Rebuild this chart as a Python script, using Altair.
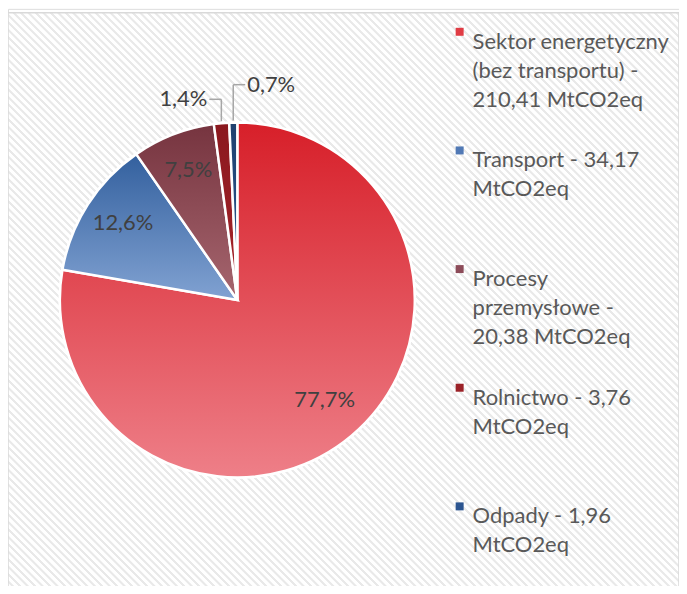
import math
import altair as alt
import pandas as pd

# ---------------- data ----------------
legend_labels = [
    "Sektor energetyczny|(bez transportu) -|210,41 MtCO2eq",
    "Transport - 34,17|MtCO2eq",
    "Procesy|przemysłowe -|20,38 MtCO2eq",
    "Rolnictwo - 3,76|MtCO2eq",
    "Odpady - 1,96|MtCO2eq",
]
values = [210.41, 34.17, 20.38, 3.76, 1.96]
pct_labels = ["77,7%", "12,6%", "7,5%", "1,4%", "0,7%"]

legend_colors = ["#e03c44", "#5179b5", "#8c4b59", "#9b2228", "#2c5590"]
grad_top = ["#d71f29", "#33609e", "#76343f", "#8a181e", "#1f416f"]
grad_bottom = ["#ee7f88", "#81a2d2", "#a6666f", "#a8252c", "#2f5a95"]

# ---------------- layout / style ----------------
W, H = 673, 578
CX, CY = 230, 292
R = 178
FONT = "Lato"
total = sum(values)

df = pd.DataFrame({
    "cat": legend_labels,
    "value": values,
    "pct": pct_labels,
    "order": list(range(len(values))),
})

theta_scale = alt.Scale(domain=[0, total], range=[0, 2 * math.pi])

base = (
    alt.Chart(df)
    .transform_window(cum="sum(value)", sort=[alt.SortField("order")], frame=[None, 0])
    .transform_calculate(start="datum.cum - datum.value", mid="datum.cum - datum.value / 2")
)

# background with fine diagonal stripes
N = 180
stops = []
for k in range(N):
    stops.append(alt.GradientStop(color="#ffffff", offset=k / N))
    stops.append(alt.GradientStop(color="#ffffff", offset=(k + 0.5) / N))
    stops.append(alt.GradientStop(color="#e9e9e9", offset=(k + 0.6) / N))
    stops.append(alt.GradientStop(color="#e9e9e9", offset=min((k + 0.9) / N, 1)))
stripes = alt.Gradient(gradient="linear", stops=stops, x1=0, y1=1, x2=1, y2=0)

background = alt.Chart(alt.Data(values=[{}])).mark_rect(
    fill=stripes, stroke="#d9d9d9", strokeWidth=1.5
).encode(
    x=alt.value(0), x2=alt.value(W), y=alt.value(4), y2=alt.value(4 + W)
)

# solid arcs (provide legend)
arcs = base.mark_arc(outerRadius=R, stroke="white", strokeWidth=2.5).encode(
    theta=alt.Theta("start:Q", scale=theta_scale),
    theta2=alt.Theta2("cum:Q"),
    x=alt.value(CX),
    y=alt.value(CY),
    color=alt.Color(
        "cat:N",
        scale=alt.Scale(domain=legend_labels, range=legend_colors),
        legend=alt.Legend(
            title=None,
            orient="none",
            legendX=442,
            legendY=12,
            padding=0,
            labelExpr="split(datum.label, '|')",
            labelFont=FONT,
            labelFontSize=22,
            labelColor="#595959",
            labelLimit=400,
            labelOffset=2,
            labelBaseline="top",
            symbolType="square",
            symbolSize=64,
            symbolStrokeWidth=0,
            rowPadding=29,
            gridAlign="all",
        ),
    ),
)

# gradient overlays per slice
grad_layers = []
for i in range(len(values)):
    g = alt.Gradient(
        gradient="linear",
        stops=[alt.GradientStop(color=grad_top[i], offset=0), alt.GradientStop(color=grad_bottom[i], offset=1)],
        x1=0, y1=0, x2=0, y2=1,
    )
    grad_layers.append(
        base.transform_filter(f"datum.order == {i}")
        .mark_arc(outerRadius=R, stroke="white", strokeWidth=2.5, fill=g)
        .encode(
            theta=alt.Theta("start:Q", scale=theta_scale),
            theta2=alt.Theta2("cum:Q"),
            x=alt.value(CX),
            y=alt.value(CY),
        )
    )

# inside labels
inside = base.transform_filter("datum.order < 3").mark_text(
    radius=136, font=FONT, fontSize=22, color="#404040", dy=-4
).encode(
    theta=alt.Theta("mid:Q", scale=theta_scale),
    x=alt.value(CX),
    y=alt.value(CY),
    text="pct:N",
)

# outside labels with leader lines
outside = base.transform_filter("datum.order >= 3").transform_calculate(
    ang=f"2 * PI * datum.mid / {total}",
    side="datum.order == 3 ? -1 : 1",
    lift="datum.order == 3 ? 22 : 36",
).transform_calculate(
    ex=f"{CX} + {R + 2} * sin(datum.ang)",
    ey=f"{CY} - {R + 2} * cos(datum.ang)",
).transform_calculate(
    ly="datum.ey - datum.lift",
    lx="datum.ex + datum.side * 12",
    tx="datum.ex + datum.side * 14",
)

lead_v = outside.mark_rule(color="#a6a6a6", strokeWidth=1.5).encode(
    x=alt.X("ex:Q", scale=None), y=alt.Y("ey:Q", scale=None), y2="ly:Q"
)
lead_h = outside.mark_rule(color="#a6a6a6", strokeWidth=1.5).encode(
    x=alt.X("ex:Q", scale=None), x2="lx:Q", y=alt.Y("ly:Q", scale=None)
)
out_left = outside.transform_filter("datum.side < 0").mark_text(
    font=FONT, fontSize=22, color="#404040", align="right", baseline="middle"
).encode(x=alt.X("tx:Q", scale=None), y=alt.Y("ly:Q", scale=None), text="pct:N")
out_right = outside.transform_filter("datum.side > 0").mark_text(
    font=FONT, fontSize=22, color="#404040", align="left", baseline="middle"
).encode(x=alt.X("tx:Q", scale=None), y=alt.Y("ly:Q", scale=None), text="pct:N")

chart = alt.layer(
    background, arcs, *grad_layers, inside, lead_v, lead_h, out_left, out_right
).properties(
    width=W, height=H, padding=0, autosize=alt.AutoSizeParams(type="none")
).configure_view(stroke=None).configure(
    style={"guide-label": {"lineHeight": 29}}
)

chart.save("out.html", embed_options={"renderer": "svg", "actions": False})
